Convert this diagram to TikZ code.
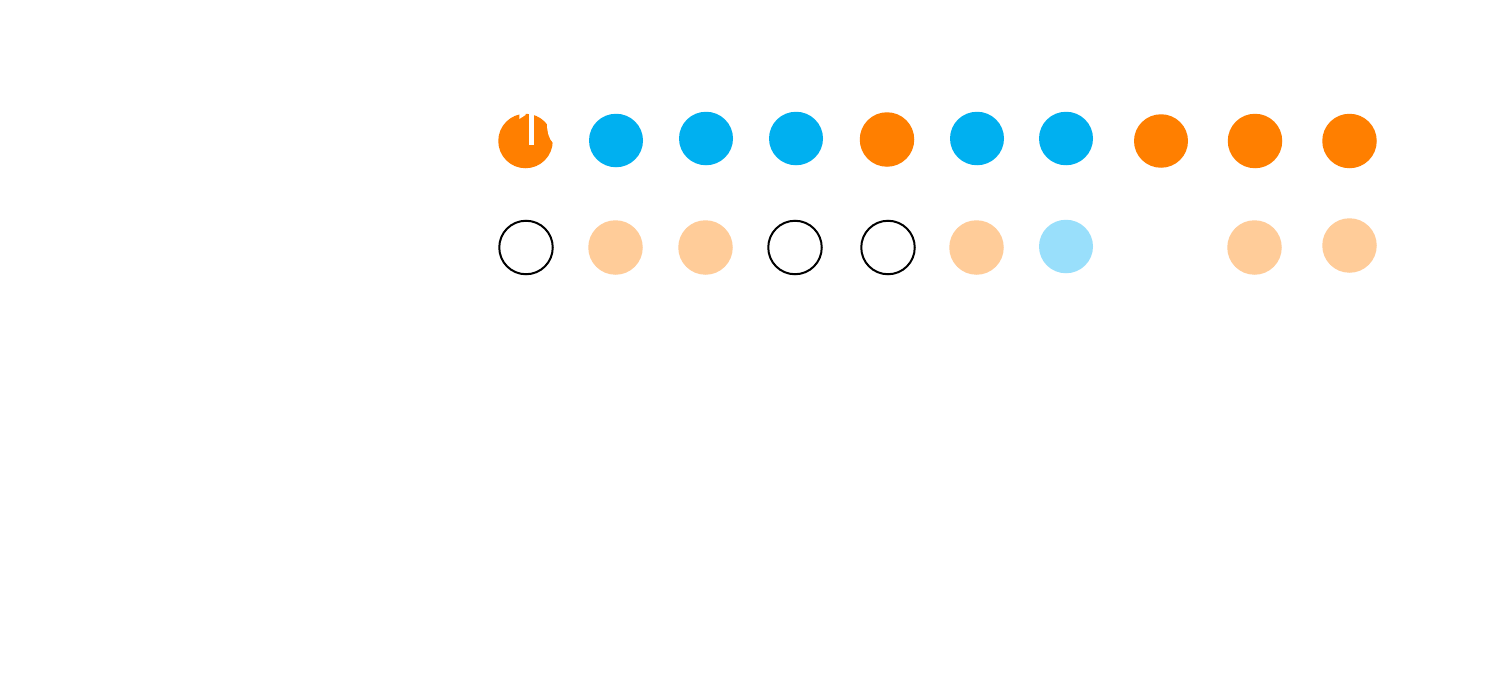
\documentclass[tikz,border=0pt]{standalone}
\usetikzlibrary{shapes.geometric}
\definecolor{dorange}{HTML}{FF7F00}
\definecolor{dblue}{HTML}{00B0F0}
\definecolor{porange}{HTML}{FFCC99}
\definecolor{pblue}{HTML}{99DFFB}
\tikzset{x=1pt,y=-1pt,
  dot/.style={ellipse,inner sep=0pt,outer sep=0pt,minimum width=#1,minimum height=#1},
  dot/.default=54.5pt,
  fullo/.style={dot,fill=dorange},
  fullb/.style={ellipse,inner sep=0pt,outer sep=0pt,minimum width=54pt,minimum height=53.5pt,fill=dblue},
  paleo/.style={dot,fill=porange},
  paleb/.style={ellipse,inner sep=0pt,outer sep=0pt,minimum width=54pt,minimum height=53.5pt,fill=pblue},
  ring/.style={circle,inner sep=0pt,outer sep=0pt,minimum size=53.5pt,draw=black,line width=2pt}}
\begin{document}
\begin{tikzpicture}
\useasboundingbox (0,0) rectangle (1504,693);
\fill[white] (0,0) rectangle (1504,693);
\node[fullo] (a1) at (525.5,141) {};
\fill[white] (519.3,119) -- (519.3,112) -- (525.5,112) -- (525.5,115) -- cycle;
\fill[white] (529.3,110) rectangle (534.3,145);
\fill[white] (547,124) .. controls (547,132) and (549,139) .. (553,142.8) -- (558,142.8) -- (558,120) -- (547,120) -- cycle;
\node[fullb] (a2) at (616,140.5) {};
\node[fullb] (a3) at (706,138.5) {};
\node[fullb] (a4) at (796,138.5) {};
\node[fullo] (a5) at (887,139.5) {};
\node[fullb] (a6) at (977,138.5) {};
\node[fullb] (a7) at (1066,138.5) {};
\node[fullb,fill=dorange] (a8) at (1161,141) {};
\node[fullo] (a9) at (1255,141) {};
\node[fullo] (a10) at (1349.5,141) {};
\node[ring] (b1) at (526,247.5) {};
\node[paleo] (b2) at (615.5,247.5) {};
\node[paleo] (b3) at (705.5,247.5) {};
\node[ring] (b4) at (795,247.5) {};
\node[ring] (b5) at (888,247.5) {};
\node[paleo] (b6) at (976.5,247.5) {};
\node[paleb] (b7) at (1066,246.5) {};
\node[paleo] (b9) at (1254.5,247.5) {};
\node[paleo] (b10) at (1349.5,245.5) {};
\end{tikzpicture}
\end{document}
